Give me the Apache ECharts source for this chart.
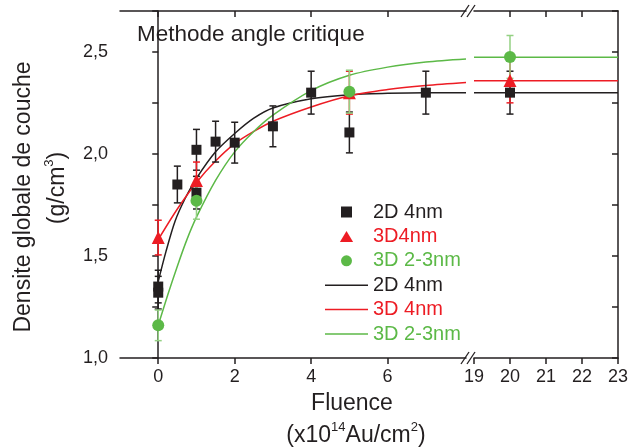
<!DOCTYPE html>
<html><head><meta charset="utf-8">
<script src="https://cdn.jsdelivr.net/npm/echarts@6/dist/echarts.min.js"></script>
<style>html,body{margin:0;padding:0;background:#fff}#c{width:631px;height:448px}</style>
</head><body><div id="c"></div>
<script>
// ---- data ----
const d2X   = [0, 0, 0.5, 1, 1, 1.5, 2, 3, 4, 5, 7, 20];
const d2Y   = [1.35, 1.32, 1.85, 2.02, 1.81, 2.06, 2.055, 2.135, 2.30, 2.105, 2.30, 2.30];
const d2Err = [0.08, 0.08, 0.09, 0.10, 0.08, 0.10, 0.10, 0.10, 0.105, 0.10, 0.105, 0.105];

const d3X   = [0, 1, 5, 20];
const d3Y   = [1.59, 1.87, 2.30, 2.36];
const d3Err = [0.085, 0.09, 0.105, 0.11];

const d23X   = [0, 1, 5, 20];
const d23Y   = [1.16, 1.77, 2.305, 2.475];
const d23Err = [0.075, 0.09, 0.105, 0.105];

const fit2DX = [0, 0.2, 0.44, 0.7, 1, 1.5, 2, 2.5, 3, 4, 5, 6, 7, 8.05];
const fit2DY = [1.375, 1.52, 1.67, 1.78, 1.88, 2.01, 2.10, 2.175, 2.225, 2.27, 2.29, 2.297, 2.30, 2.30];
const fit3DX = [0, 0.5, 1, 1.5, 2, 2.5, 3, 4, 5, 6, 7, 8.05];
const fit3DY = [1.58, 1.73, 1.86, 1.965, 2.05, 2.11, 2.16, 2.23, 2.285, 2.315, 2.335, 2.35];
const fit23X = [0, 0.25, 0.5, 0.75, 1, 1.5, 2, 2.5, 3, 4, 5, 6, 7, 8.05];
const fit23Y = [1.16, 1.31, 1.45, 1.58, 1.69, 1.87, 2.01, 2.11, 2.19, 2.31, 2.385, 2.425, 2.45, 2.465];
// plateau of the fits on the far segment
const plateauX = [19, 23];
const plateau2D = [2.30, 2.30];
const plateau3D = [2.358, 2.358];
const plateau23 = [2.474, 2.474];

const xTicksLeft = [0, 2, 4, 6];
const yLabels = [1.0, 1.5, 2.0, 2.5];

// ---- styles ----
const FONT = '"Liberation Sans", Arial, Helvetica, sans-serif';
const INK = '#231f20', RED = '#ed1c24', GREEN = '#5cb947', LGREEN = '#94d183';
const SPLIT = 10;

function pairs(xs, ys, errs, far) {
  const out = [];
  xs.forEach((x, i) => {
    if ((x >= SPLIT) === far) out.push(errs ? [x, ys[i], errs[i]] : [x, ys[i]]);
  });
  return out;
}
function errRender(color) {
  return function (params, api) {
    const x = api.value(0), y = api.value(1), e = api.value(2);
    const t = api.coord([x, y + e]), b = api.coord([x, y - e]);
    const w = 3.5, st = { stroke: color, lineWidth: 1.5 };
    return { type: 'group', children: [
      { type: 'line', shape: { x1: t[0], y1: t[1], x2: b[0], y2: b[1] }, style: st },
      { type: 'line', shape: { x1: t[0] - w, y1: t[1], x2: t[0] + w, y2: t[1] }, style: st },
      { type: 'line', shape: { x1: b[0] - w, y1: b[1], x2: b[0] + w, y2: b[1] }, style: st }
    ]};
  };
}
const axLine = { show: true, lineStyle: { color: INK, width: 1.5 } };
const noSplit = { show: false };
const labelStyle = { color: INK, fontSize: 18, fontFamily: FONT };

const series = [];
function addFit(name, xs, ys, px, py, color) {
  series.push({ name: name, type: 'line', xAxisIndex: 0, yAxisIndex: 0, smooth: 0.3,
    symbol: 'none', lineStyle: { color: color, width: 1.5 }, itemStyle: { color: color },
    data: xs.map((x, i) => [x, ys[i]]), z: 2 });
  series.push({ name: name, type: 'line', xAxisIndex: 2, yAxisIndex: 1,
    symbol: 'none', lineStyle: { color: color, width: 1.5 }, itemStyle: { color: color },
    data: px.map((x, i) => [x, py[i]]), z: 2 });
}
addFit('2D 4nm ', fit2DX, fit2DY, plateauX, plateau2D, INK);
addFit('3D 4nm', fit3DX, fit3DY, plateauX, plateau3D, RED);
addFit('3D 2-3nm ', fit23X, fit23Y, plateauX, plateau23, GREEN);

function addPoints(name, xs, ys, errs, color, ecolor, symbol, size) {
  [false, true].forEach(far => {
    const xi = far ? 2 : 0, yi = far ? 1 : 0;
    series.push({ type: 'custom', xAxisIndex: xi, yAxisIndex: yi, renderItem: errRender(ecolor),
      encode: { x: 0, y: 1 }, data: pairs(xs, ys, errs, far), z: 3, silent: true });
    series.push({ name: name, type: 'scatter', xAxisIndex: xi, yAxisIndex: yi, symbol: symbol,
      symbolSize: size, itemStyle: { color: color, opacity: 1 }, data: pairs(xs, ys, null, far), z: 4 });
  });
}
addPoints('2D 4nm', d2X, d2Y, d2Err, INK, INK, 'rect', 10);
addPoints('3D4nm', d3X, d3Y, d3Err, RED, RED, 'triangle', 13);
addPoints('3D 2-3nm', d23X, d23Y, d23Err, GREEN, LGREEN, 'circle', 12);

const ICON_SQ = 'path://M0,0 H9 V9 H0 Z';
const ICON_TRI = 'path://M6,0 L12,10 L0,10 Z';
const ICON_CIR = 'path://M0,5.5 A5.5,5.5 0 1,1 11,5.5 A5.5,5.5 0 1,1 0,5.5 Z';
const ICON_LINE = 'path://M0,0 H43 V1.5 H0 Z';

const chart = echarts.init(document.getElementById('c'), null, { renderer: 'canvas' });
const slash = (x, y) => ({ type: 'line', shape: { x1: x, y1: y + 6, x2: x + 8, y2: y - 6 },
  style: { stroke: INK, lineWidth: 1.3 }, z: 20 });
const SUP = { fontSize: 13, fontFamily: FONT, verticalAlign: 'top', lineHeight: 13 };
const BASE = { fontSize: 23, fontFamily: FONT, lineHeight: 31, verticalAlign: 'middle' };
chart.setOption({
  animation: false,
  backgroundColor: '#fff',
  grid: [
    { left: 120, right: 165, top: 11, bottom: 90 },
    { left: 474, right: 11, top: 11, bottom: 90 }
  ],
  xAxis: [
    { gridIndex: 0, type: 'value', position: 'bottom', min: -1, max: 8.05, axisLine: axLine,
      axisTick: { show: true, inside: false, length: 6, customValues: xTicksLeft, lineStyle: { color: INK, width: 1.5 } },
      axisLabel: { customValues: xTicksLeft, margin: 10, ...labelStyle }, splitLine: noSplit },
    { gridIndex: 0, type: 'value', position: 'top', min: -1, max: 8.05, axisLine: axLine,
      axisTick: { show: true, inside: true, length: 6, customValues: xTicksLeft, lineStyle: { color: INK, width: 1.5 } },
      axisLabel: { show: false }, splitLine: noSplit },
    { gridIndex: 1, type: 'value', position: 'bottom', min: 19, max: 23, interval: 1, axisLine: axLine,
      axisTick: { show: true, inside: false, length: 6, lineStyle: { color: INK, width: 1.5 } },
      axisLabel: { margin: 10, showMinLabel: true, showMaxLabel: true, ...labelStyle }, splitLine: noSplit },
    { gridIndex: 1, type: 'value', position: 'top', min: 19, max: 23, interval: 1, axisLine: axLine,
      axisTick: { show: true, inside: true, length: 6, customValues: [20, 21, 22], lineStyle: { color: INK, width: 1.5 } },
      axisLabel: { show: false }, splitLine: noSplit }
  ],
  yAxis: [
    { gridIndex: 0, type: 'value', position: 'left', min: 1, max: 2.7, interval: 0.25, axisLine: axLine,
      axisTick: { show: true, inside: false, length: 6, lineStyle: { color: INK, width: 1.5 } },
      axisLabel: { customValues: yLabels, margin: 12, formatter: v => v.toFixed(1).replace('.', ','), ...labelStyle },
      splitLine: noSplit },
    { gridIndex: 1, type: 'value', position: 'right', min: 1, max: 2.7, interval: 0.25, axisLine: axLine,
      axisTick: { show: true, inside: true, length: 6, lineStyle: { color: INK, width: 1.5 } },
      axisLabel: { show: false }, splitLine: noSplit }
  ],
  legend: {
    orient: 'vertical', left: 320, top: 197, itemWidth: 43, itemHeight: 11, itemGap: 4.4,
    padding: 5, selectedMode: false, symbolKeepAspect: true,
    textStyle: { fontSize: 20, fontFamily: FONT, lineHeight: 20 },
    data: [
      { name: '2D 4nm', icon: ICON_SQ, textStyle: { color: INK } },
      { name: '3D4nm', icon: ICON_TRI, textStyle: { color: RED } },
      { name: '3D 2-3nm', icon: ICON_CIR, textStyle: { color: GREEN } },
      { name: '2D 4nm ', icon: ICON_LINE, textStyle: { color: INK } },
      { name: '3D 4nm', icon: ICON_LINE, textStyle: { color: RED } },
      { name: '3D 2-3nm ', icon: ICON_LINE, textStyle: { color: GREEN } }
    ]
  },
  graphic: [
    { type: 'text', left: 137, top: 23, style: { text: 'Methode angle critique', fill: INK, font: '22.5px ' + FONT } },
    { type: 'text', x: 24, y: 197, rotation: Math.PI / 2,
      style: { text: 'Densite globale de couche', fill: INK, font: '23px ' + FONT, align: 'center', verticalAlign: 'middle' } },
    { type: 'text', x: 58, y: 188, rotation: Math.PI / 2,
      style: { text: '{b|(g/cm}{sup|3}{b|)}', fill: INK, font: '23px ' + FONT, align: 'center', verticalAlign: 'middle', rich: { sup: SUP, b: BASE } } },
    { type: 'text', x: 352, y: 404,
      style: { text: 'Fluence', fill: INK, font: '23px ' + FONT, align: 'center', verticalAlign: 'middle' } },
    { type: 'text', x: 356, y: 436,
      style: { text: '{b|(x10}{sup|14}{b|Au/cm}{sup|2}{b|)}', fill: INK, font: '23px ' + FONT, align: 'center', verticalAlign: 'middle', rich: { sup: SUP, b: BASE } } },
    slash(461, 358), slash(467, 358), slash(461, 11), slash(467, 11)
  ],
  series: series
});
</script></body></html>
